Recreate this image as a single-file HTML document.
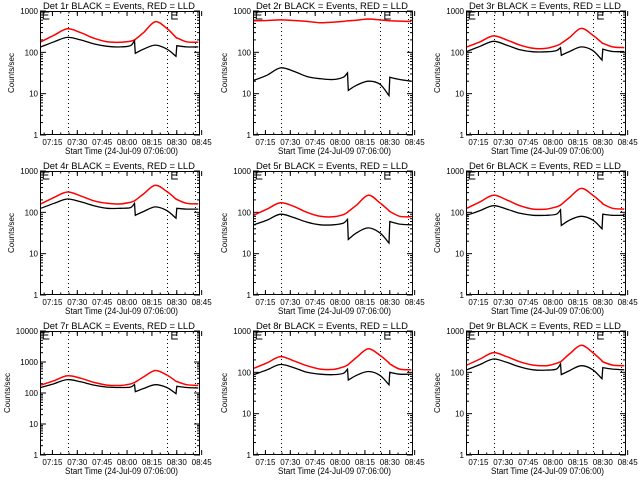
<!DOCTYPE html>
<html><head><meta charset="utf-8"><style>
html,body{margin:0;padding:0;background:#fff;}
svg{display:block;font-family:"Liberation Sans",sans-serif;}
</style></head><body>
<svg id="chart" width="640" height="480" viewBox="0 0 640 480">
<rect x="0" y="0" width="640" height="480" fill="#ffffff"/>
</svg>
<script>
// minutes after 07:00
const times = [8, 16, 24, 32, 40, 48, 56, 62, 64.5, 65, 70, 77, 84, 89.5, 90, 96, 103];
const detectors = ["1r","2r","3r","4r","5r","6r","7r","8r","9r"];
const decades = [3,3,3,3,3,3,4,3,3];
const xTickLabels = ["07:15","07:30","07:45","08:00","08:15","08:30","08:45"];
const xTickMinutes = [15,30,45,60,75,90,105];
const markerMinutes = [24.4, 84.2, 101];
const redDet1 = [180,260,370,300,220,180,175,185,200,205,300,550,380,230,225,180,175];
const blackDet1 = [135,180,230,200,160,140,135,145,190,95,120,150,120,80,145,135,135];
const redDet2 = [580,590,610,590,560,520,540,560,580,580,600,640,610,580,580,570,560];
const blackDet2 = [21,28,42,35,26,23,22,25,32,12,16,20,17,9,25,22,20];
const redDet3 = [135,180,250,200,150,125,125,145,160,165,230,380,260,170,165,135,130];
const blackDet3 = [105,140,185,150,115,103,103,110,130,85,105,135,110,65,120,105,105];
const redDet4 = [160,230,310,250,190,165,160,175,190,195,280,450,320,210,205,165,160];
const blackDet4 = [125,165,210,180,145,125,125,130,165,85,105,135,110,72,125,120,120];
const redDet5 = [85,120,170,140,100,80,78,88,100,105,150,260,170,110,105,80,78];
const blackDet5 = [50,65,90,75,58,50,50,55,68,22,32,42,32,18,60,52,50];
const redDet6 = [125,180,260,200,145,120,120,135,150,155,230,380,260,170,160,125,120];
const blackDet6 = [85,110,145,120,95,85,85,90,115,48,65,80,65,40,90,85,85];
const redDet7 = [180,250,360,300,220,180,175,195,220,225,330,530,380,240,235,185,175];
const blackDet7 = [150,200,270,230,180,155,150,155,190,110,140,185,150,95,165,150,145];
const redDet8 = [125,170,240,190,145,120,118,135,150,155,230,370,260,170,160,120,115];
const blackDet8 = [88,115,155,130,100,90,88,95,120,65,85,105,85,50,100,90,90];
const redDet9 = [150,210,300,240,180,150,145,165,180,185,280,450,300,190,180,150,145];
const blackDet9 = [115,155,210,175,135,115,113,120,160,88,110,145,115,70,130,120,115];
const redAll = [redDet1,redDet2,redDet3,redDet4,redDet5,redDet6,redDet7,redDet8,redDet9];
const blackAll = [blackDet1,blackDet2,blackDet3,blackDet4,blackDet5,blackDet6,blackDet7,blackDet8,blackDet9];
// indices after which the events series jumps (no smoothing across)
const blackBreaks = [8, 13];

const svg = document.getElementById('chart');
const NS = 'http://www.w3.org/2000/svg';
function mk(tag, attrs, parent){const e=document.createElementNS(NS,tag);for(const k in attrs)e.setAttribute(k,attrs[k]);(parent||svg).appendChild(e);return e;}

function smoothPath(pts, breaks) {
  const segs = []; let cur = [];
  pts.forEach((p, k) => { cur.push(p); if (breaks.includes(k)) { segs.push(cur); cur = []; } });
  if (cur.length) segs.push(cur);
  let d = '';
  segs.forEach((s, si) => {
    d += (si === 0 ? 'M' : 'L') + s[0][0].toFixed(1) + ' ' + s[0][1].toFixed(1);
    for (let k = 0; k < s.length - 1; k++) {
      const p0 = s[Math.max(k - 1, 0)], p1 = s[k], p2 = s[k + 1], p3 = s[Math.min(k + 2, s.length - 1)];
      const c1x = p1[0] + (p2[0] - p0[0]) / 6, c1y = p1[1] + (p2[1] - p0[1]) / 6;
      const c2x = p2[0] - (p3[0] - p1[0]) / 6, c2y = p2[1] - (p3[1] - p1[1]) / 6;
      d += 'C' + c1x.toFixed(1) + ' ' + c1y.toFixed(1) + ' ' + c2x.toFixed(1) + ' ' + c2y.toFixed(1) + ' ' + p2[0].toFixed(1) + ' ' + p2[1].toFixed(1);
    }
  });
  return d;
}

const T0 = 7.5, T1 = 104;
detectors.forEach((det, i) => {
  const col = i % 3, row = Math.floor(i / 3);
  const ox = col * 213, oy = row * 160;
  const L = ox + 40, R = ox + 200, Tp = oy + 11, B = oy + 135;
  const dec = decades[i];
  const xs = t => L + (t - T0) * (R - L) / (T1 - T0);
  const ys = v => B - Math.log10(v) / dec * (B - Tp);
  const g = mk('g', {});
  
  

  const title = mk('text', {x: ox + 43, y: oy + 9, 'font-size': 9, textLength: 152, lengthAdjust: 'spacingAndGlyphs', fill: '#000'}, g);
  title.textContent = 'Det ' + det + ' BLACK = Events, RED = LLD';
  
  

  for (let d = 0; d <= dec; d++) {
    const y = ys(Math.pow(10, d));
    mk('line', {x1: L, x2: L + 6, y1: y, y2: y, stroke: '#000', 'stroke-width': 1}, g);
    mk('line', {x1: R, x2: R - 6, y1: y, y2: y, stroke: '#000', 'stroke-width': 1}, g);
    const lbl = mk('text', {x: L - 2, y: y + 3, 'font-size': 8, 'text-anchor': 'end', fill: '#000'}, g);
    lbl.textContent = String(Math.pow(10, d));
    
    
    if (d < dec) for (let m = 2; m <= 9; m++) {
      const ym = ys(m * Math.pow(10, d));
      mk('line', {x1: L, x2: L + 3, y1: ym, y2: ym, stroke: '#000', 'stroke-width': 1}, g);
      mk('line', {x1: R, x2: R - 3, y1: ym, y2: ym, stroke: '#000', 'stroke-width': 1}, g);
    }
  }
  xTickMinutes.forEach((m, k) => {
    const x = xs(m);
    mk('line', {x1: x, x2: x, y1: B, y2: B - 5, stroke: '#000', 'stroke-width': 1}, g);
    mk('line', {x1: x, x2: x, y1: Tp, y2: Tp + 5, stroke: '#000', 'stroke-width': 1}, g);
    const lbl = mk('text', {x: x, y: B + 10, 'font-size': 8, 'text-anchor': 'middle', fill: '#000'}, g);
    lbl.textContent = xTickLabels[k];
    
    
  });
  for (let m = 10; m < T1; m += 5) {
    const x = xs(m);
    mk('line', {x1: x, x2: x, y1: B, y2: B - 2.5, stroke: '#000', 'stroke-width': 1}, g);
    mk('line', {x1: x, x2: x, y1: Tp, y2: Tp + 2.5, stroke: '#000', 'stroke-width': 1}, g);
  }
  const xt = mk('text', {x: ox + 65, y: B + 19, 'font-size': 9, textLength: 113, lengthAdjust: 'spacingAndGlyphs', fill: '#000'}, g);
  xt.textContent = 'Start Time (24-Jul-09 07:06:00)';
  
  
  const yx = ox + (dec === 4 ? 10 : 14), yy = oy + 73;
  const yt = mk('text', {x: yx, y: yy, 'font-size': 8, 'text-anchor': 'middle', fill: '#000', transform: 'rotate(-90 ' + yx + ' ' + yy + ')'}, g);
  yt.textContent = 'Counts/sec';
  
  

  markerMinutes.forEach(m => {
    const x = Math.round(xs(m)) + 0.5;
    const l = mk('line', {x1: x, x2: x, y1: Tp, y2: B, stroke: '#000', 'stroke-width': 1, 'stroke-dasharray': '1,3'}, g);
    
    
  });
  [xs(9.5), xs(87)].forEach(x => {
    const e = mk('path', {d: 'M' + (x + 6) + ' ' + (Tp + 1) + 'H' + x + 'V' + (Tp + 8) + 'H' + (x + 6) + 'M' + x + ' ' + (Tp + 4) + 'H' + (x + 5), fill: 'none', stroke: '#000', 'stroke-width': 1}, g);
    
    
  });

  const redPts = times.map((t, k) => [xs(t), ys(redAll[i][k])]);
  const red = mk('path', {d: smoothPath(redPts, []), fill: 'none', stroke: '#ff0000', 'stroke-width': 1.5}, g);
  
  
  const blkPts = times.map((t, k) => [xs(t), ys(blackAll[i][k])]);
  const blk = mk('path', {d: smoothPath(blkPts, blackBreaks), fill: 'none', stroke: '#000', 'stroke-width': 1.3}, g);
  
  

  const box = mk('rect', {x: L + 0.5, y: Tp + 0.5, width: R - L - 1, height: B - Tp - 1, fill: 'none', stroke: '#000', 'stroke-width': 1}, g);
  
  
});
</script>
</body></html>
